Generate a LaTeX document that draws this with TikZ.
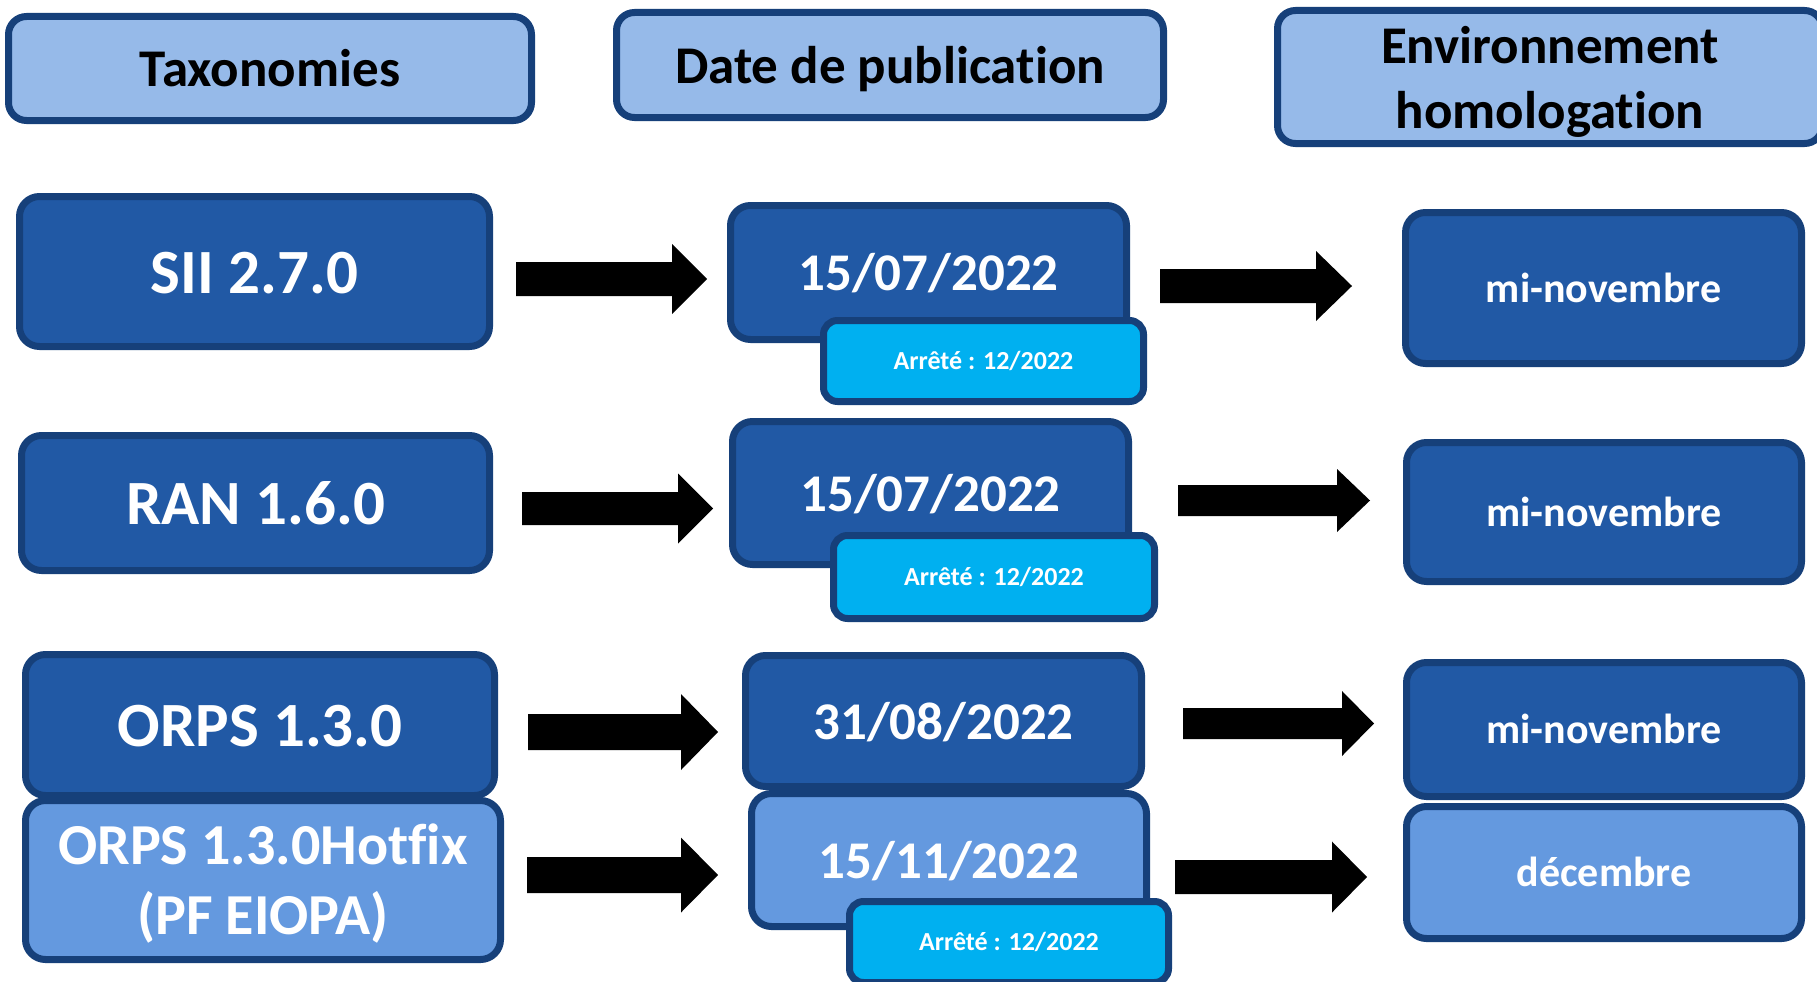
\documentclass[tikz,border=0pt]{standalone}
\usepackage{fontspec}
\setmainfont{Carlito}[Ligatures=NoCommon]
\definecolor{bordc}{RGB}{22,64,122}
\definecolor{hdrc}{RGB}{150,186,233}
\definecolor{darkc}{RGB}{33,89,165}
\definecolor{lightc}{RGB}{100,153,223}
\definecolor{cyanc}{RGB}{0,176,240}
\tikzset{
  basebox/.style={draw=bordc, line width=7pt, inner sep=0pt, align=center, text depth=0pt},
  hdr/.style={basebox, fill=hdrc, text=black, rounded corners=18pt, font=\fontsize{53}{65}\selectfont\bfseries, text height=36pt},
  taxbox/.style={basebox, fill=darkc, text=white, rounded corners=20pt, font=\fontsize{63}{70}\selectfont\bfseries, text height=43pt},
  datebox/.style={basebox, fill=darkc, text=white, rounded corners=20pt, font=\fontsize{53}{65}\selectfont\bfseries, text height=36pt},
  envbox/.style={basebox, fill=darkc, text=white, rounded corners=20pt, font=\fontsize{42}{50}\selectfont\bfseries, text height=28.5pt},
  stopbox/.style={basebox, fill=cyanc, text=white, rounded corners=14pt, font=\fontsize{26}{31}\selectfont\bfseries, text height=17.5pt},
  lightbox/.style={fill=lightc},
  sz/.style 2 args={minimum width=#1, minimum height=#2},
  arrowfill/.style={fill=black},
}
% name, tail x, tip x, centre y, shaft half width, head half width, head length
\newcommand\blockarr[7]{%
  \coordinate (#1-tail) at (#2,#4);
  \coordinate (#1-tip) at (#3,#4);
  \fill[arrowfill] (#1-tail) ++(0,-#5) -- ({#3-#7},{#4-#5}) -- ({#3-#7},{#4-#6}) -- (#1-tip)
     -- ({#3-#7},{#4+#6}) -- ({#3-#7},{#4+#5}) -- (#2,{#4+#5}) -- cycle;
}
\begin{document}
\begin{tikzpicture}[x=1pt,y=-1pt]
\useasboundingbox (0,0) rectangle (1817,982);
\fill[white] (0,0) rectangle (1817,982);

% headers
\node[hdr, sz={523pt}{104pt}] (tax) at (270,68.5) {Taxonomies};
\node[hdr, sz={547pt}{105pt}] (pub) at (890,65) {Date de publication};
\node[hdr, sz={545pt}{133pt}, text height=102pt, text depth=0pt] (env) at (1550,77) {Environnement\\homologation};

% row 1
\node[taxbox, sz={470pt}{150pt}] (sii) at (254.5,271.5) {SII 2.7.0};
\blockarr{ar1a}{516}{707}{279}{17}{35}{35}
\node[datebox, sz={396pt}{134pt}] (d1) at (928.5,272.5) {15/07/2022};
\node[stopbox, sz={320pt}{81pt}] (s1) at (983.5,361) {Arrêté : 12/2022};
\blockarr{ar1b}{1160}{1352}{286}{17}{35}{36}
\node[envbox, sz={396pt}{151pt}] (h1) at (1603.5,288) {mi-novembre};

% row 2
\node[taxbox, sz={468pt}{135pt}] (ran) at (255.5,503) {RAN 1.6.0};
\blockarr{ar2a}{522}{713}{508.5}{16.5}{35}{35}
\node[datebox, sz={396pt}{143pt}] (d2) at (930.5,493) {15/07/2022};
\node[stopbox, sz={321pt}{83pt}] (s2) at (994,577) {Arrêté : 12/2022};
\blockarr{ar2b}{1178}{1370}{500.5}{15.5}{31.5}{33}
\node[envbox, sz={395pt}{139pt}] (h2) at (1604,512) {mi-novembre};

% row 3
\node[taxbox, sz={469pt}{141pt}] (orps) at (260,725) {ORPS 1.3.0};
\blockarr{ar3a}{528}{718}{732}{18}{38}{37}
\node[datebox, sz={396pt}{131pt}] (d3) at (943.5,721) {31/08/2022};
\blockarr{ar3b}{1183}{1374}{723.5}{15.5}{32.5}{32}
\node[envbox, sz={395pt}{134pt}] (h3) at (1604,729.5) {mi-novembre};

% row 4
\node[taxbox, lightbox, sz={475pt}{159pt}, font=\fontsize{58}{70}\selectfont\bfseries, text height=108pt, text depth=0pt] (hot) at (263,880) {ORPS 1.3.0Hotfix\\(PF EIOPA)};
\blockarr{ar4a}{527}{718}{875}{18}{37.5}{37}
\node[datebox, lightbox, sz={395pt}{133pt}] (d4) at (949,860) {15/11/2022};
\node[stopbox, sz={319pt}{81pt}] (s4) at (1009,942) {Arrêté : 12/2022};
\blockarr{ar4b}{1175}{1367}{877}{17}{35.5}{35}
\node[envbox, lightbox, sz={395pt}{132pt}] (h4) at (1604,872.5) {décembre};
\end{tikzpicture}
\end{document}
